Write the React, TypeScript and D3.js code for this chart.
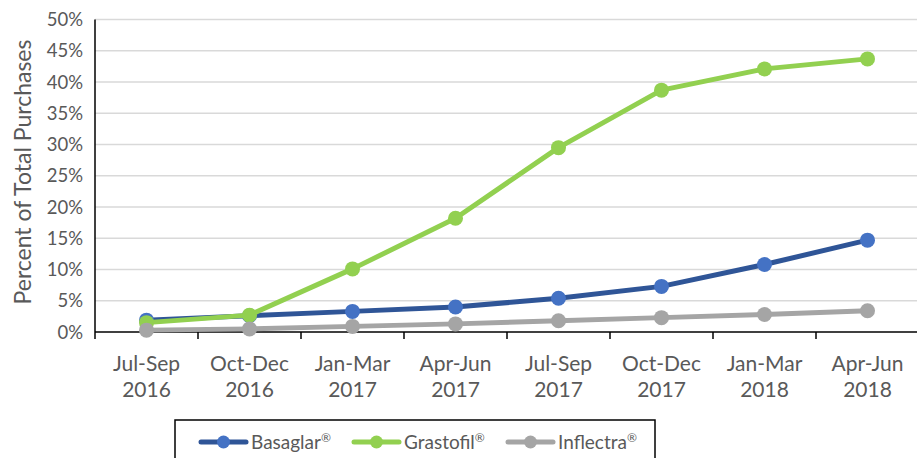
import React, { useEffect, useRef } from "react";
import * as d3 from "d3";

const categories = [
  ["Jul-Sep", "2016"],
  ["Oct-Dec", "2016"],
  ["Jan-Mar", "2017"],
  ["Apr-Jun", "2017"],
  ["Jul-Sep", "2017"],
  ["Oct-Dec", "2017"],
  ["Jan-Mar", "2018"],
  ["Apr-Jun", "2018"],
];

const basaglar = [1.9, 2.6, 3.3, 4.0, 5.4, 7.3, 10.8, 14.7];
const grastofil = [1.5, 2.7, 10.1, 18.2, 29.5, 38.7, 42.1, 43.7];
const inflectra = [0.3, 0.5, 0.9, 1.3, 1.8, 2.3, 2.8, 3.4];

const yTicks = [0, 5, 10, 15, 20, 25, 30, 35, 40, 45, 50];

const series = [
  { name: "Basaglar", values: basaglar, line: "#2F5597", dot: "#4472C4" },
  { name: "Grastofil", values: grastofil, line: "#92D050", dot: "#92D050" },
  { name: "Inflectra", values: inflectra, line: "#A5A5A5", dot: "#A5A5A5" },
];

const font = "Lato, 'Open Sans', sans-serif";
const textColor = "#595959";

const App = () => {
  const ref = useRef<SVGSVGElement>(null);

  useEffect(() => {
    const svg = d3.select(ref.current);
    svg.selectAll("*").remove();

    const margin = { top: 19.5, left: 95, bottom: 332 };
    const right = margin.left + 8 * 103;
    const x = d3
      .scaleBand()
      .domain(categories.map((c, i) => String(i)))
      .range([margin.left, right]);
    const y = d3.scaleLinear().domain([0, 50]).range([margin.bottom, margin.top]);
    const cx = (i: number) => x(String(i))! + x.bandwidth() / 2;

    // gridlines
    svg
      .append("g")
      .selectAll("line")
      .data(yTicks.filter((t) => t > 0))
      .join("line")
      .attr("x1", margin.left)
      .attr("x2", right)
      .attr("y1", (d) => y(d))
      .attr("y2", (d) => y(d))
      .attr("stroke", "#d9d9d9")
      .attr("stroke-width", 1.5);

    // y tick labels
    svg
      .append("g")
      .selectAll("text")
      .data(yTicks)
      .join("text")
      .attr("x", 83)
      .attr("y", (d) => y(d))
      .attr("dy", "0.36em")
      .attr("text-anchor", "end")
      .attr("font-family", font)
      .attr("font-size", 18.5)
      .attr("fill", textColor)
      .text((d) => d + "%");

    // axis lines
    svg
      .append("line")
      .attr("x1", margin.left)
      .attr("x2", margin.left)
      .attr("y1", y(50))
      .attr("y2", y(0))
      .attr("stroke", "#000")
      .attr("stroke-width", 1.5);
    svg
      .append("line")
      .attr("x1", margin.left)
      .attr("x2", right)
      .attr("y1", y(0))
      .attr("y2", y(0))
      .attr("stroke", "#000")
      .attr("stroke-width", 1.5);

    // category ticks
    const tickXs = categories.map((c, i) => x(String(i))!).concat([right]);
    svg
      .append("g")
      .selectAll("line")
      .data(tickXs)
      .join("line")
      .attr("x1", (d) => d)
      .attr("x2", (d) => d)
      .attr("y1", y(0))
      .attr("y2", y(0) + 7)
      .attr("stroke", "#000")
      .attr("stroke-width", 1.5);

    // x labels
    const xl = svg
      .append("g")
      .selectAll("text")
      .data(categories)
      .join("text")
      .attr("text-anchor", "middle")
      .attr("font-family", font)
      .attr("font-size", 21)
      .attr("fill", textColor);
    xl.append("tspan")
      .attr("x", (d, i) => cx(i))
      .attr("y", 371)
      .text((d) => d[0]);
    xl.append("tspan")
      .attr("x", (d, i) => cx(i))
      .attr("y", 397)
      .text((d) => d[1]);

    // y axis title
    svg
      .append("text")
      .attr("transform", `translate(31,172) rotate(-90)`)
      .attr("text-anchor", "middle")
      .attr("font-family", font)
      .attr("font-size", 23)
      .attr("fill", textColor)
      .text("Percent of Total Purchases");

    const line = d3
      .line<number>()
      .x((d, i) => cx(i))
      .y((d) => y(d));

    series.forEach((s) => {
      svg
        .append("path")
        .datum(s.values)
        .attr("fill", "none")
        .attr("stroke", s.line)
        .attr("stroke-width", 5)
        .attr("stroke-linejoin", "round")
        .attr("d", line);
      svg
        .append("g")
        .selectAll("circle")
        .data(s.values)
        .join("circle")
        .attr("cx", (d, i) => cx(i))
        .attr("cy", (d) => y(d))
        .attr("r", 7.5)
        .attr("fill", s.dot);
    });

    // legend
    const lg = svg.append("g");
    lg.append("rect")
      .attr("x", 175)
      .attr("y", 420)
      .attr("width", 480)
      .attr("height", 60)
      .attr("fill", "#fff")
      .attr("stroke", "#000")
      .attr("stroke-width", 1.5);
    const legendX = [200, 353, 507];
    series.forEach((s, i) => {
      const g = lg.append("g").attr("transform", `translate(${legendX[i]},442)`);
      g.append("line")
        .attr("x1", 1)
        .attr("x2", 46)
        .attr("stroke", s.line)
        .attr("stroke-width", 5)
        .attr("stroke-linecap", "round");
      g.append("circle").attr("cx", 23.5).attr("r", 6.5).attr("fill", s.dot);
      const t = g
        .append("text")
        .attr("x", 51)
        .attr("dy", "0.36em")
        .attr("font-family", font)
        .attr("font-size", 19)
        .attr("fill", textColor)
        .text(s.name);
      t.append("tspan")
        .attr("font-size", 12)
        .attr("dy", "-0.55em")
        .text("®");
    });
  }, []);

  return (
    <svg
      ref={ref}
      width={917}
      height={458}
      style={{ position: "absolute", left: 0, top: 0, background: "#fff" }}
    />
  );
};

export default App;
